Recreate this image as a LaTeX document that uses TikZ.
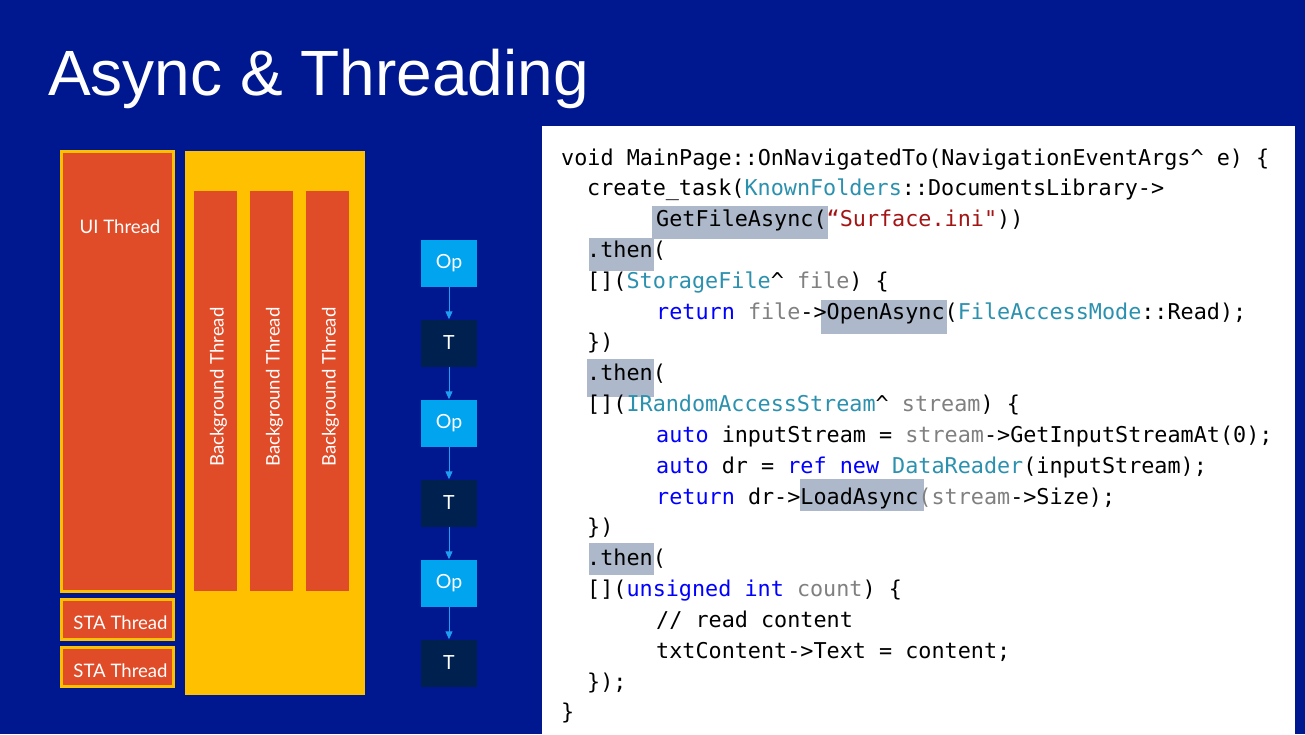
\documentclass[tikz,border=0pt]{standalone}
\usepackage{fontspec}
\setmainfont{Lato}
\setmonofont{DejaVu Sans Mono}
\newfontfamily\titlefont{Liberation Sans}
\usetikzlibrary{arrows.meta}
\definecolor{bgblue}{RGB}{0,24,143}
\definecolor{thorange}{RGB}{224,75,40}
\definecolor{thyellow}{RGB}{255,192,0}
\definecolor{opblue}{RGB}{0,164,239}
\definecolor{tnavy}{RGB}{0,32,80}
\definecolor{arrowblue}{RGB}{30,160,240}
\definecolor{hlgray}{RGB}{173,185,202}
\definecolor{kwblue}{RGB}{0,0,255}
\definecolor{tyteal}{RGB}{43,145,175}
\definecolor{pgray}{RGB}{128,128,128}
\definecolor{strred}{RGB}{163,21,21}
\newcommand\ckw[1]{\textcolor{kwblue}{#1}}
\newcommand\cty[1]{\textcolor{tyteal}{#1}}
\newcommand\cgr[1]{\textcolor{pgray}{#1}}
\newcommand\cstr[1]{\textcolor{strred}{#1}}
\newcommand\ccaret{\textasciicircum}
\tikzset{
  threadbox/.style={fill=thorange, draw=thyellow, line width=3pt, minimum width=112, inner sep=0},
  bgthread/.style={fill=thorange, minimum width=43, minimum height=400, inner sep=0},
  lbl/.style={text=white, font=\fontsize{18.6}{22}\selectfont, inner sep=0},
  opbox/.style={fill=opblue, minimum width=56, minimum height=47, inner sep=0, text=white, font=\fontsize{19.5}{22}\selectfont},
  tbox/.style={fill=tnavy, minimum width=56, minimum height=47, inner sep=0, text=white, font=\fontsize{19.5}{22}\selectfont},
  flow/.style={draw=arrowblue, line width=1pt, -{Triangle[length=8pt,width=7pt]}},
  code/.style={anchor=base west, inner sep=0, font=\ttfamily\fontsize{21.78}{26}\selectfont, text=black},
}
\begin{document}
\begin{tikzpicture}[x=1pt,y=-1pt]
\useasboundingbox (0,0) rectangle (1305,734);
\fill[bgblue] (0,0) rectangle (1305,734);
% title
\node[anchor=base west, inner sep=0, text=white, font=\titlefont\fontsize{64}{70}\selectfont] (title) at (48,95) {Async \& Threading};
% left threads
\node[threadbox, minimum height=440] (ui) at (117.5,371.5) {};
\node[lbl, anchor=base] (uilbl) at (120,233) {UI Thread};
\node[threadbox, minimum height=40] (sta1) at (117.5,619.5) {};
\node[lbl, anchor=base] (sta1lbl) at (120.5,629) {STA Thread};
\node[threadbox, minimum height=39] (sta2) at (117.5,667) {};
\node[lbl, anchor=base] (sta2lbl) at (120.5,677) {STA Thread};
% background pool
\node[fill=thyellow, minimum width=180, minimum height=544, inner sep=0] (pool) at (275,423) {};
\node[bgthread] (bg1) at (215.5,391) {};
\node[bgthread] (bg2) at (271.5,391) {};
\node[bgthread] (bg3) at (327.5,391) {};
\node[lbl, anchor=base, rotate=90] (bg1lbl) at (223.5,387) {Background Thread};
\node[lbl, anchor=base, rotate=90] (bg2lbl) at (279.5,387) {Background Thread};
\node[lbl, anchor=base, rotate=90] (bg3lbl) at (335.5,387) {Background Thread};
% op chain
\node[opbox] (op1) at (449,263) {Op};
\node[tbox] (t1) at (449,343) {T};
\node[opbox] (op2) at (449,423) {Op};
\node[tbox] (t2) at (449,503) {T};
\node[opbox] (op3) at (449,583) {Op};
\node[tbox] (t3) at (449,663) {T};
\draw[flow] (op1) -- (t1);
\draw[flow] (t1) -- (op2);
\draw[flow] (op2) -- (t2);
\draw[flow] (t2) -- (op3);
\draw[flow] (op3) -- (t3);
% code panel
\fill[white] (542,126) rectangle (1295,734);
\fill[hlgray] (652,206) rectangle (828,239);
\fill[hlgray] (589,238) rectangle (654,271);
\fill[hlgray] (821,300) rectangle (947,334);
\fill[hlgray] (587,359) rectangle (654,397);
\fill[hlgray] (800,479) rectangle (924,511);
\fill[hlgray] (589,543) rectangle (654,575);
\node[code] (c1) at (561,165.00) {void MainPage::OnNavigatedTo(NavigationEventArgs\ccaret{} e) \{};
\node[code] (c2) at (587,195.83) {create\_task(\cty{KnownFolders}::DocumentsLibrary->};
\node[code] (c3) at (656,226.66) {GetFileAsync(\cstr{“Surface.ini"}))};
\node[code] (c4) at (587,257.49) {.then(};
\node[code] (c5) at (587,288.32) {[](\cty{StorageFile}\ccaret{} \cgr{file}) \{};
\node[code] (c6) at (656,319.15) {\ckw{return} \cgr{file}->OpenAsync(\cty{FileAccessMode}::Read);};
\node[code] (c7) at (587,349.98) {\})};
\node[code] (c8) at (587,380.81) {.then(};
\node[code] (c9) at (587,411.64) {[](\cty{IRandomAccessStream}\ccaret{} \cgr{stream}) \{};
\node[code] (c10) at (656,442.47) {\ckw{auto} inputStream = \cgr{stream}->GetInputStreamAt(0);};
\node[code] (c11) at (656,473.30) {\ckw{auto} dr = \ckw{ref new} \cty{DataReader}(inputStream);};
\node[code] (c12) at (656,504.13) {\ckw{return} dr->LoadAsync\cgr{(stream}->Size);};
\node[code] (c13) at (587,534.96) {\})};
\node[code] (c14) at (587,565.79) {.then(};
\node[code] (c15) at (587,596.62) {[](\ckw{unsigned int} \cgr{count}) \{};
\node[code] (c16) at (656,627.45) {// read content};
\node[code] (c17) at (656,658.28) {txtContent->Text = content;};
\node[code] (c18) at (587,689.11) {\});};
\node[code] (c19) at (561,719.94) {\}};
\end{tikzpicture}
\end{document}
